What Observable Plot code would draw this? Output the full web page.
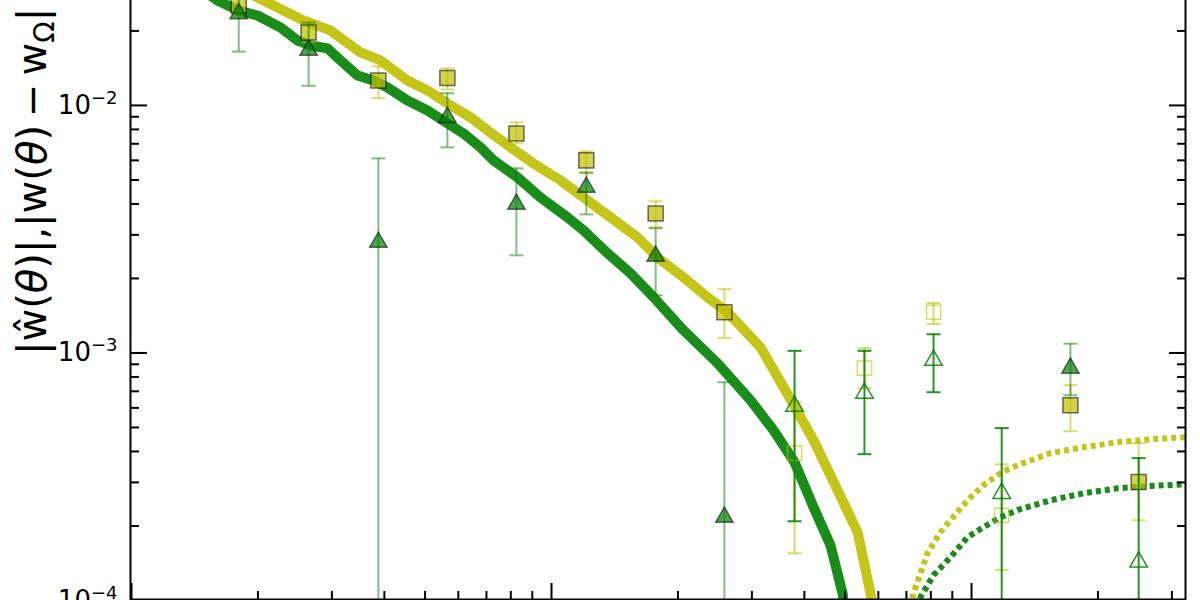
<!DOCTYPE html>
<html><head><meta charset="utf-8">
<script src="https://cdn.jsdelivr.net/npm/d3@7"></script>
<script src="https://cdn.jsdelivr.net/npm/@observablehq/plot@0.6"></script>
<style>body{margin:0;background:#fff;} #chart svg{display:block;}</style>
</head><body><div id="chart"></div>
<script>
// angular bins (theta)
const theta = [1.80, 2.64, 3.87, 5.65, 8.25, 12.1, 17.7, 25.8, 37.9, 55.6, 81.2, 118, 172, 250];

// yellow squares
const sqVal = [0.0253, 0.0197, 0.0126, 0.0129, 0.0077, 0.0060, 0.00366, 0.00146, 0.000394, 0.000868, 0.00146, 0.000221, 0.000615, 0.000301];
const sqHi  = [0.0278, 0.0218, 0.0144, 0.0141, 0.00854, 0.00652, 0.00410, 0.00181, 0.000632, 0.001045, 0.00159, 0.000355, 0.000741, 0.000432];
const sqLo  = [0.0231, 0.0180, 0.0107, 0.0116, 0.00702, 0.00531, 0.00322, 0.00115, 0.000155, 0.00072, 0.00131, 0.000133, 0.000483, 0.000211];
const sqFilled = [1,1,1,1,1,1,1,1,0,0,0,0,1,1];

// green triangles
const triVal = [0.0235, 0.0167, 0.00280, 0.00895, 0.00399, 0.00467, 0.00246, 0.000217, 0.000609, 0.000688, 0.000934, 0.000271, 0.000868, 0.000143];
const triHi  = [0.033, 0.0216, 0.00611, 0.0112, 0.00557, 0.00536, 0.00319, 0.000762, 0.00102, 0.00102, 0.00119, 0.000497, 0.00109, 0.000376];
const triLo  = [0.0165, 0.0120, 1e-6, 0.00677, 0.00248, 0.00363, 0.00171, 1e-6, 0.000209, 0.00039, 0.000694, 1e-6, 0.000675, 1e-6];
const triFilled = [1,1,1,1,1,1,1,1,0,0,0,0,1,0];

// model curves (positive part, solid)
const yModelTheta = [1.567, 2.062, 2.568, 2.977, 3.510, 3.916, 4.541, 5.068, 5.654, 6.415, 7.157, 7.989, 9.061, 10.51, 11.92, 13.82, 16.03, 17.88, 20.62, 23.52, 26.24, 31.45, 37.90, 42.06, 47.97, 53.54, 57.48, 59.40];
const yModelVal   = [0.03348, 0.02654, 0.02203, 0.02009, 0.01637, 0.01520, 0.01262, 0.01150, 0.01019, 0.00895, 0.00778, 0.00677, 0.00583, 0.00498, 0.00425, 0.00353, 0.00293, 0.00243, 0.00202, 0.001679, 0.001460, 0.001054, 0.000609, 0.000444, 0.000279, 0.000189, 0.000107, 0.000076];
const gModelTheta = [1.459, 1.602, 1.798, 1.995, 2.264, 2.485, 2.668, 2.929, 3.145, 3.452, 3.769, 4.070, 4.541, 5.068, 5.654, 6.173, 6.776, 7.276, 8.299, 9.415, 10.92, 11.92, 13.60, 15.42, 17.50, 20.62, 24.85, 29.78, 33.78, 37.90, 42.06, 46.16, 49.31, 50.41];
const gModelVal   = [0.02967, 0.02654, 0.02419, 0.02308, 0.02065, 0.01830, 0.01747, 0.01699, 0.01520, 0.01322, 0.01262, 0.01182, 0.01047, 0.00954, 0.00846, 0.00771, 0.00677, 0.00600, 0.00512, 0.00425, 0.00353, 0.00313, 0.002527, 0.002098, 0.001679, 0.001235, 0.000909, 0.000644, 0.000487, 0.000362, 0.000238, 0.000167, 0.000107, 0.0000796];

// model curves (negative part, |w - w_Omega|, dotted)
const yNegTheta = [70.0, 72.76, 78.59, 84.38, 89.13, 97.84, 106.8, 117.2, 128.7, 154.2, 184.8, 222.6, 266.8, 323.2];
const yNegVal   = [0.0000796, 0.000107, 0.0001553, 0.000189, 0.000211, 0.000254, 0.000292, 0.000327, 0.000352, 0.000394, 0.000416, 0.000436, 0.000448, 0.000457];
const gNegTheta = [72.76, 75.60, 81.21, 89.13, 97.84, 106.8, 117.2, 128.7, 154.2, 184.8, 222.6, 266.8, 323.2];
const gNegVal   = [0.0000796, 0.0001032, 0.0001266, 0.0001496, 0.0001803, 0.0001978, 0.000217, 0.000232, 0.000254, 0.000271, 0.000284, 0.000290, 0.000295];

// ticks
const yMajor = [1e-4, 1e-3, 1e-2];
const yMinor = [2e-4,3e-4,4e-4,5e-4,6e-4,7e-4,8e-4,9e-4,2e-3,3e-3,4e-3,5e-3,6e-3,7e-3,8e-3,9e-3,2e-2];
const xMajor = [1, 10, 100];
const xMinor = [2,3,4,5,6,7,8,9,20,30,40,50,60,70,80,90,200,300];
const xDomain = [0.9945, 323.2];
const yDomain = [1e-4, 0.02654];

const yellow = "#bfbf00", green = "#008000";

const sq = theta.map((t,i) => ({theta:t, v:sqVal[i], lo:sqLo[i], hi:sqHi[i], filled: sqFilled[i] === 1}));
const tri = theta.map((t,i) => ({theta:t, v:triVal[i], lo:triLo[i], hi:triHi[i], filled: triFilled[i] === 1}));
const zip = (a,b) => a.map((t,i) => ({theta:t, v:b[i]}));
const yModel = zip(yModelTheta, yModelVal), gModel = zip(gModelTheta, gModelVal);
const yNeg = zip(yNegTheta, yNegVal), gNeg = zip(gNegTheta, gNegVal);

const capSymbol = {draw(ctx, size){ const r = Math.sqrt(size/Math.PI); ctx.moveTo(-r,0); ctx.lineTo(r,0); }};

function errMarks(data, color, filledOpacity, openOpacity) {
  const out = [];
  for (const [flt, op] of [[d => d.filled, filledOpacity], [d => !d.filled, openOpacity]]) {
    out.push(Plot.ruleX(data, {filter: flt, x:"theta", y1:"lo", y2:"hi", stroke:color, strokeOpacity:op, strokeWidth:2, clip:true}));
    out.push(Plot.dot(data, {filter: flt, x:"theta", y:"hi", symbol:capSymbol, r:7, stroke:color, strokeOpacity:op, strokeWidth:2, clip:true}));
    out.push(Plot.dot(data, {filter: flt, x:"theta", y:"lo", symbol:capSymbol, r:7, stroke:color, strokeOpacity:op, strokeWidth:2, clip:true}));
  }
  return out;
}

const svg = Plot.plot({
  width: 1200, height: 600,
  marginLeft: 130, marginRight: 15, marginTop: 0, marginBottom: 0,
  x: {type: "log", domain: xDomain},
  y: {type: "log", domain: yDomain},
  style: {fontFamily: "DejaVu Sans", background: "white", color: "black", overflow: "visible"},
  marks: [
    Plot.line(yModel, {x:"theta", y:"v", stroke:yellow, strokeOpacity:0.9, strokeWidth:10, clip:true}),
    Plot.line(gModel, {x:"theta", y:"v", stroke:green, strokeOpacity:0.9, strokeWidth:10, clip:true}),
    Plot.line(yNeg, {x:"theta", y:"v", stroke:yellow, strokeOpacity:0.9, strokeWidth:6, strokeDasharray:"5,4", strokeLinecap:"butt", strokeLinejoin:"miter", clip:true}),
    Plot.line(gNeg, {x:"theta", y:"v", stroke:green, strokeOpacity:0.9, strokeWidth:6, strokeDasharray:"5,4", strokeLinecap:"butt", strokeLinejoin:"miter", clip:true}),
    ...errMarks(sq, yellow, 0.55, 0.6),
    Plot.dot(sq, {filter: d => d.filled, x:"theta", y:"v", symbol:"square", r:8.5, fill:yellow, fillOpacity:0.7, stroke:"black", strokeOpacity:0.55, strokeWidth:1.5, clip:true}),
    Plot.dot(sq, {filter: d => !d.filled, x:"theta", y:"v", symbol:"square", r:8, fill:"none", stroke:yellow, strokeOpacity:0.6, strokeWidth:1.5, clip:true}),
    ...errMarks(tri, green, 0.5, 0.85),
    Plot.dot(tri, {filter: d => d.filled, x:"theta", y:"v", symbol:"triangle", r:6.5, fill:green, fillOpacity:0.7, stroke:"black", strokeOpacity:0.55, strokeWidth:1.5, clip:true}),
    Plot.dot(tri, {filter: d => !d.filled, x:"theta", y:"v", symbol:"triangle", r:6.5, fill:"none", stroke:green, strokeOpacity:0.85, strokeWidth:1.5, clip:true}),
    Plot.frame({stroke:"black", strokeWidth:2, insetTop:-6, insetBottom:1}),
    Plot.axisY({anchor:"left", ticks:yMajor, tickSize:17, dx:17, fill:"none", label:null, strokeWidth:2, stroke:"black"}),
    Plot.axisY({anchor:"left", ticks:yMinor, tickSize:9, dx:9, fill:"none", label:null, strokeWidth:2, stroke:"black"}),
    Plot.axisY({anchor:"right", ticks:yMajor, tickSize:17, dx:-17, fill:"none", label:null, strokeWidth:2, stroke:"black"}),
    Plot.axisY({anchor:"right", ticks:yMinor, tickSize:9, dx:-9, fill:"none", label:null, strokeWidth:2, stroke:"black"}),
    Plot.axisX({anchor:"bottom", ticks:xMajor, tickSize:17, dy:-17, fill:"none", label:null, strokeWidth:2, stroke:"black"}),
    Plot.axisX({anchor:"bottom", ticks:xMinor, tickSize:9, dy:-9, fill:"none", label:null, strokeWidth:2, stroke:"black"}),
    Plot.axisY({anchor:"left", ticks:yMajor, tickSize:0, tickPadding:13, fontSize:26, fill:"black", label:null,
      tickFormat: d => `10^${Math.round(Math.log10(d))}`})
  ]
});

// superscript tick labels
d3.select(svg).selectAll('g[aria-label="y-axis tick label"] text').each(function() {
  const m = this.textContent.match(/^10\^(-?\d+)$/);
  if (!m) return;
  const s = d3.select(this);
  s.text(null);
  s.append("tspan").text("10");
  s.append("tspan").attr("font-size", 18).attr("dy", -10).text(m[1].replace("-", "\u2212"));
});

// y axis title (mathtext-like)
const lab = d3.select(svg).append("text")
  .attr("transform", "translate(46,355) rotate(-90)")
  .attr("text-anchor", "start")
  .attr("font-family", "DejaVu Sans").attr("font-size", 40).attr("fill", "black");
const parts = [["|"],["\u0175"],["("],["\u03b8","italic"],[")"],["|"],[","],["|"],["w"],["("],["\u03b8","italic"],[")"],["\u2009\u2212\u2009"],["w"]];
for (const [t, st] of parts) { const sp = lab.append("tspan").text(t); if (st) sp.attr("font-style", st); }
lab.append("tspan").attr("font-size", 28).attr("dy", 8).text("\u03a9");
lab.append("tspan").attr("dy", -8).text("|");

document.getElementById("chart").appendChild(svg);
</script>
</body></html>
